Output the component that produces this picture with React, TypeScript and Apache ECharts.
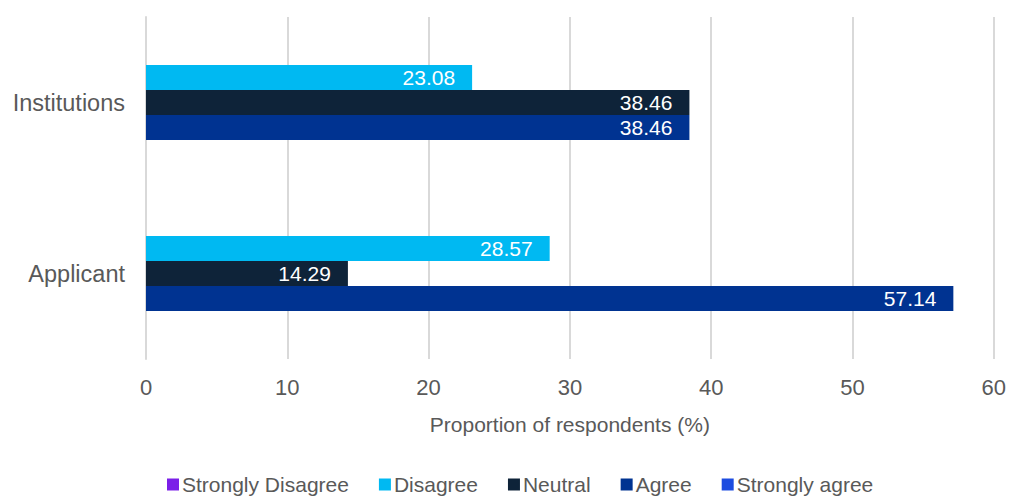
import React, { useEffect, useRef } from "react";
import * as echarts from "echarts";

const categories = ["Applicant", "Institutions"];
const seriesNames = ["Strongly Disagree", "Disagree", "Neutral", "Agree", "Strongly agree"];
const stronglyDisagree = [0, 0];
const disagree = [28.57, 23.08];
const neutral = [14.29, 38.46];
const agree = [57.14, 38.46];
const stronglyAgree = [0, 0];
const colors = ["#7B1FE8", "#00B9F2", "#0E2339", "#003391", "#1D4CE0"];

export default function App() {
  const ref = useRef<HTMLDivElement>(null);
  useEffect(() => {
    if (!ref.current) return;
    const chart = echarts.init(ref.current, null, { renderer: "svg" });
    const values = [stronglyDisagree, disagree, neutral, agree, stronglyAgree];
    const font = "Liberation Sans, Arial, sans-serif";
    chart.setOption({
      animation: false,
      textStyle: { fontFamily: font },
      grid: { left: 146, right: 14, top: 17, bottom: 138, containLabel: false },
      xAxis: {
        type: "value",
        min: 0,
        max: 60,
        interval: 10,
        axisLine: { show: false },
        axisTick: { show: false },
        axisLabel: { fontSize: 22, color: "#595959", margin: 17, fontFamily: font },
        splitLine: { lineStyle: { color: "#d9d9d9", width: 2 } },
        name: "Proportion of respondents (%)",
        nameLocation: "middle",
        nameGap: 55,
        nameTextStyle: { fontSize: 21, color: "#595959", fontFamily: font },
      },
      yAxis: {
        type: "category",
        data: categories,
        axisLine: { show: true, lineStyle: { color: "#d9d9d9", width: 2 } },
        axisTick: { show: false },
        axisLabel: { fontSize: 23.5, color: "#595959", margin: 21, fontFamily: font },
      },
      legend: {
        data: seriesNames,
        left: 162,
        top: 469,
        padding: 5,
        icon: "rect",
        itemWidth: 12,
        itemHeight: 12,
        itemGap: 30,
        textStyle: {
          fontSize: 21,
          lineHeight: 20,
          color: "#595959",
          fontFamily: font,
          padding: [0, 0, 0, -2],
        },
      },
      series: seriesNames.map((name, i) => ({
        name,
        type: "bar",
        data: values[i],
        barWidth: 25,
        barGap: "0%",
        itemStyle: { color: colors[i] },
        label: {
          show: true,
          position: "insideRight",
          distance: 17,
          color: "#ffffff",
          fontSize: 21,
          fontFamily: font,
          formatter: (p: any) => (p.value === 0 ? "" : Number(p.value).toFixed(2)),
        },
      })),
    });
    return () => chart.dispose();
  }, []);
  return (
    <div
      ref={ref}
      style={{ position: "fixed", left: 0, top: 0, width: 1009, height: 497, background: "#ffffff" }}
    />
  );
}
